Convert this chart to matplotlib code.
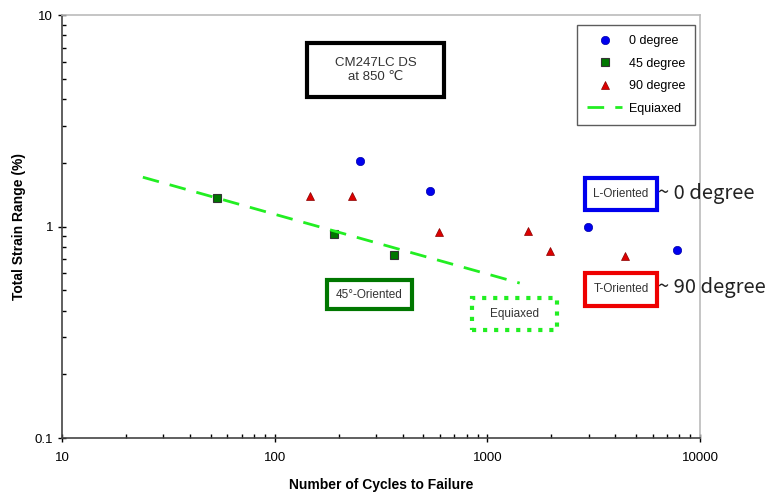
import matplotlib.pyplot as plt
from matplotlib.patches import Rectangle

plt.rcParams['font.family'] = ['Liberation Sans', 'DejaVu Sans']

# fatigue data
cyc_0 = [252, 537, 2970, 7780]
strain_0 = [2.04, 1.47, 1.0, 0.775]
cyc_45 = [53.6, 190, 364]
strain_45 = [1.36, 0.92, 0.73]
cyc_90 = [147, 231, 592, 1553, 1968, 4436]
strain_90 = [1.39, 1.39, 0.94, 0.95, 0.766, 0.725]
cyc_eq = [24, 1420]
strain_eq = [1.71, 0.54]

W, H = 779, 494
fig = plt.figure(figsize=(W/100, H/100), dpi=100)
ax = fig.add_axes([62/W, 1-438/H, 638/W, 423/H])

ax.plot(cyc_0, strain_0, 'o', color='#0000ee', ms=6, mec='#0000aa', mew=0.5, ls='none', label='0 degree')
ax.plot(cyc_45, strain_45, 's', color='#007700', ms=6, mec='#333333', mew=0.8, ls='none', label='45 degree')
ax.plot(cyc_90, strain_90, '^', color='#dd0000', ms=6, mec='#880000', mew=0.5, ls='none', label='90 degree')
ax.plot(cyc_eq, strain_eq, ls=(0, (6, 4)), color='#22ee22', lw=2, label='Equiaxed')

ax.set_xscale('log')
ax.set_yscale('log')
ax.set_xlim(10, 10000)
ax.set_ylim(0.1, 10)
ax.set_xticks([10, 100, 1000, 10000])
ax.set_xticklabels(['10', '100', '1000', '10000'])
ax.set_yticks([0.1, 1, 10])
ax.set_yticklabels(['0.1', '1', '10'])
ax.tick_params(which='major', direction='inout', length=6, labelsize=9.5, width=1)
ax.tick_params(which='minor', direction='in', length=3, width=1)
ax.tick_params(axis='x', pad=7)
for s in ['left', 'bottom']:
    ax.spines[s].set_color('#444444')
    ax.spines[s].set_linewidth(1.2)
for s in ['top', 'right']:
    ax.spines[s].set_color('#bbbbbb')
    ax.spines[s].set_linewidth(1.2)

ax.set_xlabel('Number of Cycles to Failure', fontsize=10, fontweight='bold', labelpad=10)
ax.set_ylabel('Total Strain Range (%)', fontsize=10, fontweight='bold', labelpad=6)

leg = ax.legend(loc='upper right', bbox_to_anchor=(695/W, 1-25/H), bbox_transform=fig.transFigure,
                borderaxespad=0, fontsize=9, frameon=True, fancybox=False, edgecolor='#333333',
                handlelength=2.8, labelspacing=0.85, borderpad=0.8, handletextpad=0.5)
leg.get_frame().set_linewidth(1)


def box(x0, y0, x1, y1, txt, ec, w=2.5, ls='solid', fs=8.5, col='#333333'):
    fig.patches.append(Rectangle((x0/W, 1-y1/H), (x1-x0)/W, (y1-y0)/H, transform=fig.transFigure,
                                 fc='white', ec=ec, lw=w, ls=ls, zorder=5))
    fig.text((x0+x1)/2/W, 1-(y0+y1)/2/H, txt, ha='center', va='center', fontsize=fs,
             color=col, zorder=6)


box(307, 43, 444, 97, 'CM247LC DS\nat 850 \u2103', 'black', w=3, fs=9.5)
box(327, 280, 412, 309, '45\u00b0-Oriented', '#007700', w=3)
box(472, 298, 557, 330, 'Equiaxed', '#22ee22', w=3, ls=':')
box(585, 178, 657, 210, 'L-Oriented', '#0000ee', w=3)
box(585, 273, 657, 306, 'T-Oriented', '#ee0000', w=3)

fig.text(658/W, 1-193/H, '~ 0 degree', fontsize=14.5, color='#222222', zorder=10,
         family=['Noto Sans CJK KR', 'DejaVu Sans'], va='center')
fig.text(658/W, 1-288/H, '~ 90 degree', fontsize=14.5, color='#222222', zorder=10,
         family=['Noto Sans CJK KR', 'DejaVu Sans'], va='center')

fig.savefig('out.png', dpi=100)
